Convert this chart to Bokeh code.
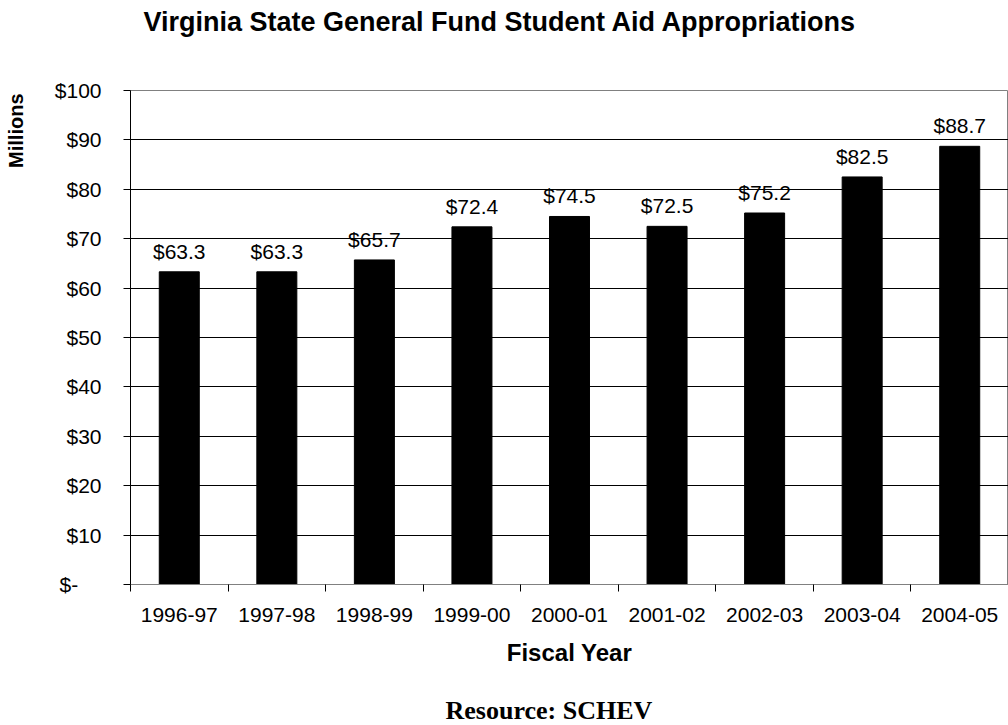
from bokeh.plotting import figure
from bokeh.models import FixedTicker, Range1d, Title, ColumnDataSource
from bokeh.core.properties import value
from bokeh.embed import file_html
from bokeh.resources import INLINE

years = ["1996-97", "1997-98", "1998-99", "1999-00", "2000-01", "2001-02", "2002-03", "2003-04", "2004-05"]
values = [63.3, 63.3, 65.7, 72.4, 74.5, 72.5, 75.2, 82.5, 88.7]
y_ticks = [0, 10, 20, 30, 40, 50, 60, 70, 80, 90, 100]
y_tick_labels = ["$-\u00a0\u00a0\u00a0\u00a0", "$10", "$20", "$30", "$40", "$50", "$60", "$70", "$80", "$90", "$100"]

W, H = 1008, 725
L, T, B = 130, 90, 141

p = figure(width=W, height=H, output_backend="svg", toolbar_location=None,
           x_range=Range1d(0, 9), y_range=Range1d(0, 100),
           min_border_left=L, min_border_right=0, min_border_top=T, min_border_bottom=B)
p.background_fill_color = "white"
p.border_fill_color = "white"
p.outline_line_color = "#808080"
p.outline_line_width = 1

centers = [i + 0.5 for i in range(len(years))]
src = ColumnDataSource(dict(x=centers, top=values,
                            lab=["$%.1f" % v for v in values]))
p.vbar(x="x", top="top", width=0.41, source=src, fill_color="black", line_color="black")
p.text(x="x", y="top", text="lab", source=src, text_align="center", text_baseline="bottom",
       y_offset=-9, text_font_size="21px", text_font=value("Liberation Sans"), text_color="black")

# x axis
xa = p.xaxis[0]
xa.ticker = FixedTicker(ticks=centers, minor_ticks=list(range(len(years) + 1)))
xa.major_label_overrides = {c: y for c, y in zip(centers, years)}
xa.major_tick_line_color = None
xa.minor_tick_in = 0
xa.minor_tick_out = 7
xa.minor_tick_line_color = "black"
xa.axis_line_color = "#808080"
xa.major_label_text_font = "Liberation Sans"
xa.major_label_text_font_size = "21px"
xa.major_label_text_color = "black"
xa.major_label_standoff = 16
xa.axis_label = "Fiscal Year"
xa.axis_label_text_font = "Liberation Sans"
xa.axis_label_text_font_style = "bold"
xa.axis_label_text_font_size = "24px"
xa.axis_label_text_color = "black"
xa.axis_label_standoff = 14

# y axis
ya = p.yaxis[0]
ya.ticker = FixedTicker(ticks=y_ticks, minor_ticks=[])
ya.major_label_overrides = {t: l for t, l in zip(y_ticks, y_tick_labels)}
ya.major_tick_in = 0
ya.major_tick_out = 7
ya.major_tick_line_color = "black"
ya.axis_line_color = "black"
ya.major_label_text_font = "Liberation Sans"
ya.major_label_text_font_size = "21px"
ya.major_label_text_color = "black"
ya.major_label_standoff = 22

p.xgrid.grid_line_color = None
p.ygrid.ticker = FixedTicker(ticks=y_ticks[1:-1])
p.ygrid.grid_line_color = "black"
p.ygrid.grid_line_width = 1

def spacer(side, gap):
    p.add_layout(Title(text=" ", text_font_size="1px", standoff=gap), side)

# top: spacer next to the frame, then the chart title further out
spacer("above", 51)
p.add_layout(Title(text="Virginia State General Fund Student Aid Appropriations",
                   align="left", offset=13, standoff=0,
                   text_font="Liberation Sans", text_font_style="bold",
                   text_font_size="27px", text_color="black"), "above")

# left: axis, spacer, then "Millions"
spacer("left", 22)
p.add_layout(Title(text="Millions", align="right", offset=3, standoff=0,
                   text_font="Liberation Sans", text_font_style="bold",
                   text_font_size="20px", text_color="black"), "left")

# bottom: axis (+ "Fiscal Year"), spacer, then the source note
spacer("below", 22)
p.add_layout(Title(text="Resource: SCHEV", align="left", offset=315, standoff=0,
                   text_font="Liberation Serif", text_font_style="bold",
                   text_font_size="26px", text_color="black"), "below")

open("out.html", "w").write(file_html(p, INLINE))
